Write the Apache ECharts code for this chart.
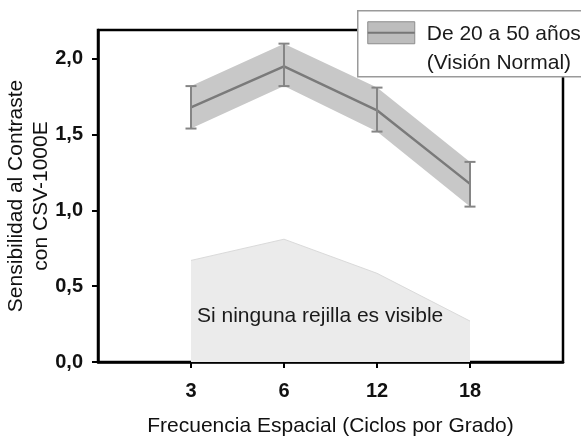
<!DOCTYPE html>
<html>
<head>
<meta charset="utf-8">
<script src="https://cdn.jsdelivr.net/npm/echarts@6/dist/echarts.min.js"></script>
<style>
  html, body { margin: 0; padding: 0; background: #ffffff; }
  #chart { width: 581px; height: 436px; }
</style>
</head>
<body>
<div id="chart"></div>
<script>
// Spatial frequencies (cycles per degree)
const freqLabels = ['3', '6', '12', '18'];
// Mean contrast sensitivity, 20–50 years (normal vision)
const meanValues = [1.68, 1.95, 1.66, 1.175];
// Upper and lower limits of the normal range
const upperValues = [1.82, 2.10, 1.81, 1.32];
const lowerValues = [1.54, 1.82, 1.52, 1.025];
// Level below which no grating is visible
const noneVisible = [0.67, 0.81, 0.585, 0.27];
// Y tick values
const yTicks = [0, 0.5, 1.0, 1.5, 2.0];

const seriesName = 'De 20 a 50 años';
const seriesNameLine2 = '(Visión Normal)';
const areaText = 'Si ninguna rejilla es visible';

const FONT = '"Liberation Sans", Arial, sans-serif';
const xPos = freqLabels.map((_, i) => i + 1);

const chart = echarts.init(document.getElementById('chart'), null, { renderer: 'canvas' });

const option = {
  backgroundColor: '#ffffff',
  animation: false,
  grid: {
    left: 98, right: 18, top: 30, bottom: 74,
    outerBoundsMode: 'none', containLabel: false,
    show: true, backgroundColor: '#ffffff',
    borderColor: '#000000', borderWidth: 2.5
  },
  xAxis: {
    type: 'value', min: 0, max: freqLabels.length + 1,
    name: 'Frecuencia Espacial (Ciclos por Grado)',
    nameLocation: 'middle', nameGap: 54, nameMoveOverlap: false,
    nameTextStyle: { fontFamily: FONT, fontSize: 21, color: '#111' },
    axisLine: { show: true, lineStyle: { color: '#000', width: 2.5 } },
    axisTick: { show: true, customValues: xPos, length: 6, lineStyle: { color: '#000', width: 2 } },
    axisLabel: {
      customValues: xPos, margin: 19,
      formatter: v => freqLabels[Math.round(v) - 1] || '',
      fontFamily: FONT, fontSize: 20, fontWeight: 'bold', color: '#111'
    },
    splitLine: { show: false }
  },
  yAxis: {
    type: 'value', min: 0, max: 2.19,
    name: 'Sensibilidad al Contraste\ncon CSV-1000E',
    nameLocation: 'middle', nameGap: 44, nameRotate: 90, nameMoveOverlap: false,
    nameTextStyle: { fontFamily: FONT, fontSize: 21, color: '#111', lineHeight: 25 },
    axisLine: { show: true, lineStyle: { color: '#000', width: 2.5 } },
    axisTick: { show: true, customValues: yTicks, length: 6, lineStyle: { color: '#000', width: 2 } },
    axisLabel: {
      customValues: yTicks, margin: 15,
      formatter: v => v.toFixed(1).replace('.', ','),
      fontFamily: FONT, fontSize: 20, fontWeight: 'bold', color: '#111'
    },
    splitLine: { show: false }
  },
  series: [
    {
      name: areaText,
      type: 'line',
      data: xPos.map((x, i) => [x, noneVisible[i]]),
      symbol: 'none',
      lineStyle: { color: '#dadada', width: 1 },
      areaStyle: { color: '#ebebeb', opacity: 1 },
      z: 1
    },
    {
      name: seriesName + ' band',
      type: 'custom',
      data: xPos.map((x, i) => [x, lowerValues[i], upperValues[i]]),
      renderItem: function (params, api) {
        if (params.dataIndex !== 0) return null;
        const top = xPos.map((x, i) => api.coord([x, upperValues[i]]));
        const bot = xPos.map((x, i) => api.coord([x, lowerValues[i]])).reverse();
        return {
          type: 'polygon',
          shape: { points: top.concat(bot) },
          style: { fill: '#c8c8c8' }
        };
      },
      z: 2
    },
    {
      name: seriesName,
      type: 'line',
      data: xPos.map((x, i) => [x, meanValues[i]]),
      symbol: 'none',
      lineStyle: { color: '#7a7a7a', width: 2.5 },
      z: 3
    },
    {
      name: seriesName + ' error',
      type: 'custom',
      data: xPos.map((x, i) => [x, lowerValues[i], upperValues[i]]),
      renderItem: function (params, api) {
        const x = api.value(0);
        const hi = api.coord([x, api.value(2)]);
        const lo = api.coord([x, api.value(1)]);
        const w = 5.5;
        const st = { stroke: '#858585', lineWidth: 2 };
        return {
          type: 'group',
          children: [
            { type: 'line', shape: { x1: hi[0], y1: hi[1], x2: lo[0], y2: lo[1] }, style: st },
            { type: 'line', shape: { x1: hi[0] - w, y1: hi[1], x2: hi[0] + w, y2: hi[1] }, style: st },
            { type: 'line', shape: { x1: lo[0] - w, y1: lo[1], x2: lo[0] + w, y2: lo[1] }, style: st }
          ]
        };
      },
      z: 4
    }
  ],
  graphic: [
    {
      type: 'text', left: 197, top: 306, z: 10,
      style: { text: areaText, font: '21px ' + FONT, fill: '#1a1a1a' }
    },
    {
      type: 'group', left: 357, top: 10, z: 20,
      children: [
        { type: 'rect', shape: { x: 0, y: 0, width: 240, height: 66 },
          style: { fill: '#ffffff', stroke: '#9a9a9a', lineWidth: 1.5 } },
        { type: 'rect', shape: { x: 10, y: 11, width: 47, height: 22 },
          style: { fill: '#bdbdbd', stroke: '#8c8c8c', lineWidth: 1 } },
        { type: 'line', shape: { x1: 10, y1: 22, x2: 57, y2: 22 },
          style: { stroke: '#777777', lineWidth: 2 } },
        { type: 'text', x: 69, y: 13,
          style: { text: seriesName, font: '21px ' + FONT, fill: '#1a1a1a' } },
        { type: 'text', x: 69, y: 42,
          style: { text: seriesNameLine2, font: '21px ' + FONT, fill: '#1a1a1a' } }
      ]
    }
  ]
};

chart.setOption(option);
</script>
</body>
</html>
